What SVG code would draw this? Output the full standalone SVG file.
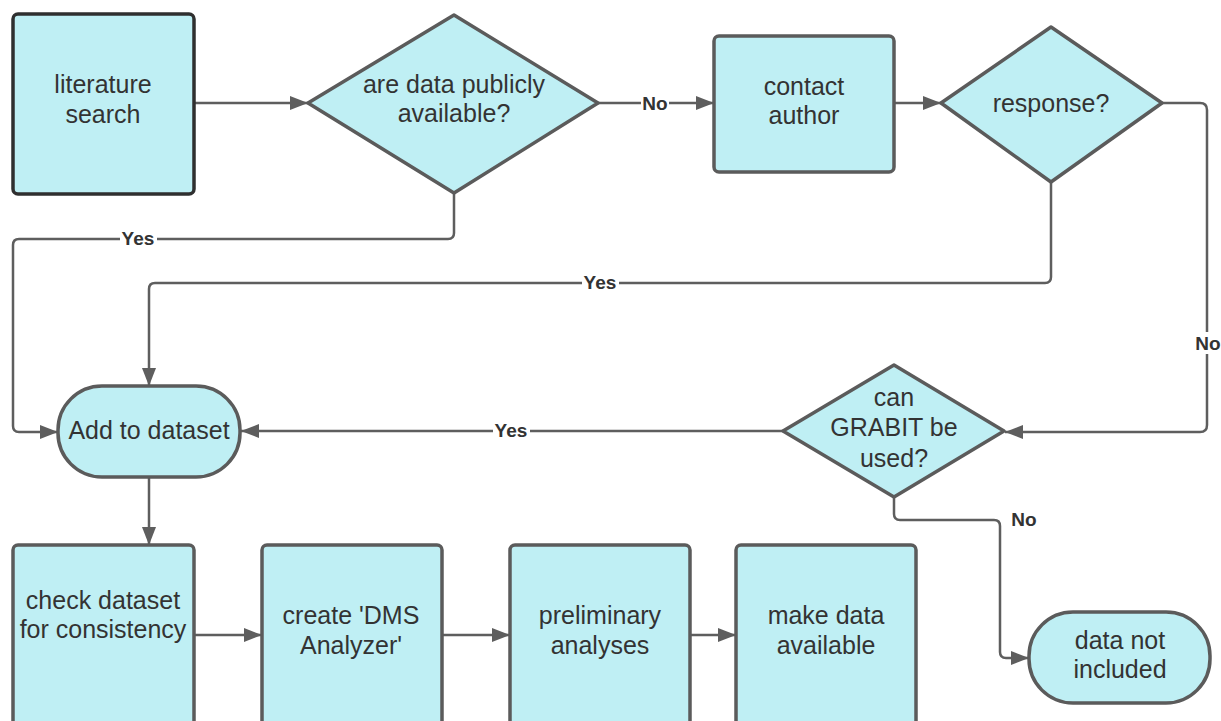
<svg xmlns="http://www.w3.org/2000/svg" width="1221" height="721" viewBox="0 0 1221 721">
<defs>
<style>
.n{fill:#bfeff4;stroke:#5b5b5b;stroke-width:3.5;stroke-linejoin:round}
.dark{stroke:#2f2f2f}
.t{font-family:"Liberation Sans",Arial,sans-serif;font-size:25px;fill:#333;text-anchor:middle;dominant-baseline:central}
.e{fill:none;stroke:#5e5e5e;stroke-width:2.5}
.lb{font-family:"Liberation Sans",Arial,sans-serif;font-size:19px;font-weight:bold;fill:#333;text-anchor:middle;dominant-baseline:central}
.bg{fill:#fff}
</style>
<marker id="ah" viewBox="0 0 18 14" refX="18" refY="7" markerWidth="18" markerHeight="14" markerUnits="userSpaceOnUse" orient="auto"><path d="M0,0 L18,7 L0,14 z" fill="#5e5e5e"/></marker>
</defs>
<rect width="1221" height="721" fill="#fff"/>
<g id="connectors">
<path class="e" d="M194,103 H308" marker-end="url(#ah)"/>
<path class="e" d="M598,103 H714" marker-end="url(#ah)"/>
<path class="e" d="M894,103 H941" marker-end="url(#ah)"/>
<path class="e" d="M1162,103 H1200 Q1207,103 1207,110 V425 Q1207,432 1200,432 H1005" marker-end="url(#ah)"/>
<path class="e" d="M1051,182 V277 Q1051,283 1045,283 H155 Q149,283 149,289 V386" marker-end="url(#ah)"/>
<path class="e" d="M454,193 V233 Q454,239 448,239 H19 Q13,239 13,245 V426 Q13,432 19,432 H58" marker-end="url(#ah)"/>
<path class="e" d="M783,431 H241" marker-end="url(#ah)"/>
<path class="e" d="M894,497 V514 Q894,520 900,520 H994 Q1000,520 1000,526 V652 Q1000,658 1006,658 H1029" marker-end="url(#ah)"/>
<path class="e" d="M149,477 V545" marker-end="url(#ah)"/>
<path class="e" d="M194,635 H262" marker-end="url(#ah)"/>
<path class="e" d="M442,635 H510" marker-end="url(#ah)"/>
<path class="e" d="M690,635 H736" marker-end="url(#ah)"/>
<rect class="bg" x="641" y="92" width="28" height="22"/>
<text class="lb" x="655" y="103">No</text>
<rect class="bg" x="1194" y="332" width="28" height="22"/>
<text class="lb" x="1208" y="343">No</text>
<rect class="bg" x="582" y="271" width="37" height="22"/>
<text class="lb" x="600" y="282">Yes</text>
<rect class="bg" x="120" y="227" width="37" height="22"/>
<text class="lb" x="138" y="238">Yes</text>
<rect class="bg" x="493" y="419" width="37" height="22"/>
<text class="lb" x="511" y="430">Yes</text>
<text class="lb" x="1024" y="519">No</text>
</g>
<g id="literature-search">
<rect class="n dark" x="13" y="14" width="181" height="180" rx="5"/>
<text class="t" x="103" y="84">literature</text>
<text class="t" x="103" y="114">search</text>
</g>
<g id="data-available">
<path class="n" d="M454,15 L598,103 L454,193 L308,103 Z"/>
<text class="t" x="454" y="84">are data publicly</text>
<text class="t" x="454" y="113">available?</text>
</g>
<g id="contact-author">
<rect class="n" x="714" y="36" width="180" height="136" rx="5"/>
<text class="t" x="804" y="86">contact</text>
<text class="t" x="804" y="115">author</text>
</g>
<g id="response">
<path class="n" d="M1051,27 L1162,103 L1051,182 L941,103 Z"/>
<text class="t" x="1051" y="103">response?</text>
</g>
<g id="grabit">
<path class="n" d="M894,365 L1004,431 L894,497 L783,431 Z"/>
<text class="t" x="894" y="397">can</text>
<text class="t" x="894" y="427">GRABIT be</text>
<text class="t" x="894" y="458">used?</text>
</g>
<g id="add-to-dataset">
<rect class="n" x="58" y="386" width="182" height="91" rx="44"/>
<text class="t" x="149" y="430">Add to dataset</text>
</g>
<g id="data-not-included">
<rect class="n" x="1029" y="612" width="181" height="91" rx="44"/>
<text class="t" x="1120" y="640">data not</text>
<text class="t" x="1120" y="669">included</text>
</g>
<g id="check-dataset">
<rect class="n" x="13" y="545" width="181" height="200" rx="5"/>
<text class="t" x="103" y="600">check dataset</text>
<text class="t" x="103" y="629">for consistency</text>
</g>
<g id="dms-analyzer">
<rect class="n" x="262" y="545" width="180" height="200" rx="5"/>
<text class="t" x="351" y="615">create 'DMS</text>
<text class="t" x="351" y="645">Analyzer'</text>
</g>
<g id="preliminary">
<rect class="n" x="510" y="545" width="180" height="200" rx="5"/>
<text class="t" x="600" y="615">preliminary</text>
<text class="t" x="600" y="645">analyses</text>
</g>
<g id="make-available">
<rect class="n" x="736" y="545" width="180" height="200" rx="5"/>
<text class="t" x="826" y="615">make data</text>
<text class="t" x="826" y="645">available</text>
</g>
</svg>
